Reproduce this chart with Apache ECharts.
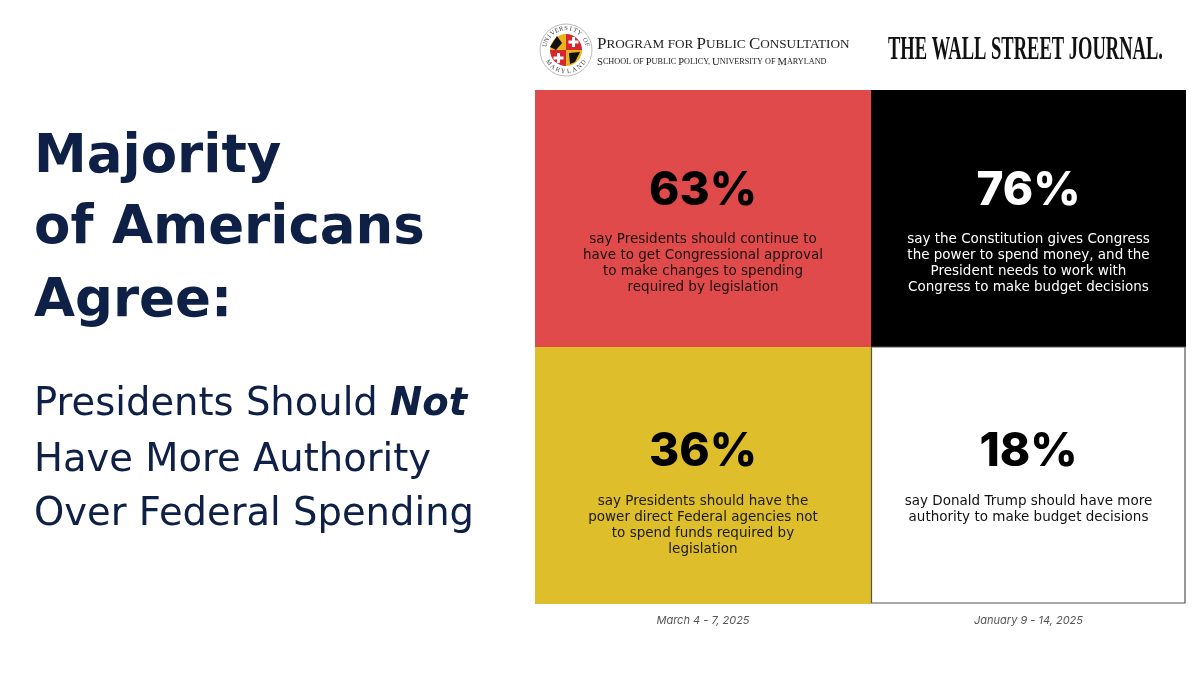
<!DOCTYPE html>
<html>
<head>
<meta charset="utf-8">
<script src="https://cdn.jsdelivr.net/npm/echarts@6/dist/echarts.min.js"></script>
<style>html,body{margin:0;padding:0;background:#fff}#c{width:1200px;height:675px}</style>
</head>
<body>
<div id="c"></div>
<script>
// ---- data ----
const surveyDates = ['March 4 - 7, 2025', 'January 9 - 14, 2025'];
const rowLabels = ['Row 1', 'Row 2'];
const percentValues = [63, 76, 36, 18];
const cellColumn = [0, 1, 0, 1];
const cellRow = [0, 0, 1, 1];
const statements = [
  ['say Presidents should continue to', 'have to get Congressional approval', 'to make changes to spending', 'required by legislation'],
  ['say the Constitution gives Congress', 'the power to spend money, and the', 'President needs to work with', 'Congress to make budget decisions'],
  ['say Presidents should have the', 'power direct Federal agencies not', 'to spend funds required by', 'legislation'],
  ['say Donald Trump should have more', 'authority to make budget decisions']
];
const titleLines = ['Majority', 'of Americans', 'Agree:'];
const subtitleLines = [['Presidents Should ', 'Not'], ['Have More Authority'], ['Over Federal Spending']];
const orgName = 'Program for Public Consultation';
const orgSchool = 'School of Public Policy, University of Maryland';
const paperName = 'THE WALL STREET JOURNAL.';

// ---- styles ----
const cellFill = ['#E14A4A', '#000000', '#DEBE2A', '#FFFFFF'];
const cellInk = ['#1a1010', '#FFFFFF', '#1a1a10', '#111111'];
const navy = '#0E2046';
const NUMFONT = 'Inter, "Open Sans", sans-serif';
const FONT = '"DejaVu Sans", "Open Sans", sans-serif';

const chart = echarts.init(document.getElementById('c'));

const grids = [
  { left: 535, top: 90, width: 336, height: 514 },
  { left: 871, top: 90, width: 315, height: 514 }
];

function renderCell(params, api) {
  const i = api.value(2);
  const c = api.coord([api.value(0), api.value(1)]);
  const s = api.size([1, 1]);
  const x0 = c[0] - s[0] / 2, y0 = c[1] - s[1] / 2;
  const row = cellRow[i];
  const numY = y0 + (row === 0 ? 101 : 105);
  const descY = y0 + (row === 0 ? 141 : 146);
  const children = [{
    type: 'rect',
    shape: { x: x0, y: y0, width: s[0], height: s[1] },
    style: { fill: cellFill[i], stroke: i === 3 ? '#555' : null, lineWidth: i === 3 ? 1.2 : 0 }
  }];
  if (i === 3) {
    children[0].shape = { x: x0 + 0.5, y: y0, width: s[0] - 1.5, height: s[1] - 1 };
  }
  children.push({
    type: 'text',
    style: {
      x: c[0], y: numY, text: percentValues[i] + '%',
      fill: i === 1 ? '#fff' : '#000',
      fontFamily: NUMFONT, fontWeight: 800, fontSize: 46,
      align: 'center', verticalAlign: 'middle'
    }
  });
  children.push({
    type: 'text',
    style: {
      x: c[0], y: descY, text: statements[i].join('\n'),
      fill: cellInk[i], fontFamily: FONT, fontSize: 13.5, lineHeight: 16,
      align: 'center', verticalAlign: 'top'
    }
  });
  return { type: 'group', children: children };
}

const seriesList = [0, 1].map(col => ({
  type: 'custom',
  xAxisIndex: col, yAxisIndex: col,
  renderItem: renderCell,
  data: percentValues.map((v, i) => i).filter(i => cellColumn[i] === col)
        .map(i => [surveyDates[col], rowLabels[cellRow[i]], i]),
  encode: { x: 0, y: 1 },
  silent: true
}));

// measure text for WSJ fit
const mctx = document.createElement('canvas').getContext('2d');
mctx.font = 'bold 34px "Liberation Serif"';
const wsjW = mctx.measureText(paperName).width;
const wsjScale = 275 / wsjW;

// small caps rich text
function smallCaps(str) {
  const words = str.split(' ');
  const lower = ['for', 'of'];
  return words.map(w => {
    if (lower.indexOf(w.toLowerCase()) >= 0) return '{s|' + w.toUpperCase() + '}';
    return '{b|' + w[0].toUpperCase() + '}{s|' + w.slice(1).toUpperCase() + '}';
  }).join('{s| }');
}

// seal
const sealCx = 566, sealCy = 50, fr = 16;
const sealGraphics = [
  { type: 'circle', shape: { cx: sealCx, cy: sealCy, r: 26 }, style: { fill: '#fff', stroke: '#aaa', lineWidth: 0.8 } },
  { type: 'sector', shape: { cx: sealCx, cy: sealCy, r: fr, r0: 0, startAngle: Math.PI, endAngle: Math.PI * 1.5 }, style: { fill: '#E9B21E' } },
  { type: 'sector', shape: { cx: sealCx, cy: sealCy, r: fr, r0: 0, startAngle: Math.PI * 1.5, endAngle: Math.PI * 2 }, style: { fill: '#D7262E' } },
  { type: 'sector', shape: { cx: sealCx, cy: sealCy, r: fr, r0: 0, startAngle: Math.PI * 0.5, endAngle: Math.PI }, style: { fill: '#D7262E' } },
  { type: 'sector', shape: { cx: sealCx, cy: sealCy, r: fr, r0: 0, startAngle: 0, endAngle: Math.PI * 0.5 }, style: { fill: '#E9B21E' } },
  { type: 'polygon', shape: { points: [[sealCx - 16, sealCy - 3], [sealCx - 9, sealCy - 14], [sealCx - 4, sealCy - 7], [sealCx - 10, sealCy]] }, style: { fill: '#111' } },
  { type: 'polygon', shape: { points: [[sealCx + 3, sealCy + 3], [sealCx + 14, sealCy + 2], [sealCx + 9, sealCy + 12], [sealCx + 4, sealCy + 14]] }, style: { fill: '#111' } },
  { type: 'rect', shape: { x: sealCx + 6, y: sealCy - 13, width: 3, height: 10 }, style: { fill: '#fff' } },
  { type: 'rect', shape: { x: sealCx + 2.5, y: sealCy - 9.5, width: 10, height: 3 }, style: { fill: '#fff' } },
  { type: 'rect', shape: { x: sealCx - 9, y: sealCy + 3, width: 3, height: 10 }, style: { fill: '#fff' } },
  { type: 'rect', shape: { x: sealCx - 12.5, y: sealCy + 6.5, width: 10, height: 3 }, style: { fill: '#fff' } }
];
function ringText(str, a0, a1, radius, flip) {
  const out = [];
  const n = str.length;
  for (let k = 0; k < n; k++) {
    const a = a0 + (a1 - a0) * (n === 1 ? 0.5 : k / (n - 1));
    const x = sealCx + radius * Math.cos(a), y = sealCy + radius * Math.sin(a);
    out.push({
      type: 'text', x: x, y: y,
      rotation: flip ? -(a - Math.PI / 2) : -(a + Math.PI / 2),
      style: { text: str[k], fontSize: 6.5, fontFamily: 'Liberation Serif', fill: '#444', align: 'center', verticalAlign: 'middle' }
    });
  }
  return out;
}
sealGraphics.push(...ringText('UNIVERSITY OF', Math.PI * 1.08, Math.PI * 1.92, 21.5, false));
sealGraphics.push(...ringText('MARYLAND', Math.PI * 0.8, Math.PI * 0.2, 21.5, true));

const titleY = [158, 229, 302];
const subY = [405, 461, 515];
const graphics = [];
titleLines.forEach((t, k) => graphics.push({
  type: 'text', x: 34, y: titleY[k],
  style: { text: t, fill: navy, fontFamily: FONT, fontWeight: 700, fontSize: 53, verticalAlign: 'middle', align: 'left' }
}));
subtitleLines.forEach((parts, k) => {
  let txt = '{a|' + parts[0] + '}';
  if (parts[1]) txt += '{b|' + parts[1] + '}';
  graphics.push({
    type: 'text', x: 34, y: subY[k],
    style: {
      text: txt, verticalAlign: 'middle', align: 'left',
      rich: {
        a: { fill: navy, fontFamily: FONT, fontWeight: 400, fontSize: 38.5 },
        b: { fill: navy, fontFamily: FONT, fontWeight: 700, fontStyle: 'italic', fontSize: 38.5 }
      }
    }
  });
});
graphics.push({
  type: 'text', x: 597, y: 45,
  style: { text: smallCaps(orgName), verticalAlign: 'middle', align: 'left',
    rich: { b: { fontFamily: 'Liberation Serif', fontSize: 17, fill: '#222' }, s: { fontFamily: 'Liberation Serif', fontSize: 13.2, fill: '#222' } } }
});
graphics.push({
  type: 'text', x: 597, y: 62,
  style: { text: smallCaps(orgSchool), verticalAlign: 'middle', align: 'left',
    rich: { b: { fontFamily: 'Liberation Serif', fontSize: 10.6, fill: '#222' }, s: { fontFamily: 'Liberation Serif', fontSize: 8.2, fill: '#222' } } }
});
graphics.push({
  type: 'text', x: 888, y: 50, scaleX: wsjScale, scaleY: 1,
  style: { text: paperName, fontFamily: 'Liberation Serif', fontWeight: 'bold', fontSize: 34, fill: '#111', verticalAlign: 'middle', align: 'left' }
});
graphics.push(...sealGraphics);

const option = {
  backgroundColor: '#fff',
  animation: false,
  grid: grids,
  xAxis: [0, 1].map(col => ({
    type: 'category', gridIndex: col, data: [surveyDates[col]],
    axisLine: { show: false }, axisTick: { show: false }, splitLine: { show: false },
    axisLabel: { margin: 11, fontFamily: NUMFONT, fontStyle: 'italic', fontSize: 11, color: '#555' }
  })),
  yAxis: [0, 1].map(col => ({
    type: 'category', gridIndex: col, data: rowLabels, inverse: true, show: false
  })),
  series: seriesList,
  graphic: graphics
};
chart.setOption(option);
</script>
</body>
</html>
